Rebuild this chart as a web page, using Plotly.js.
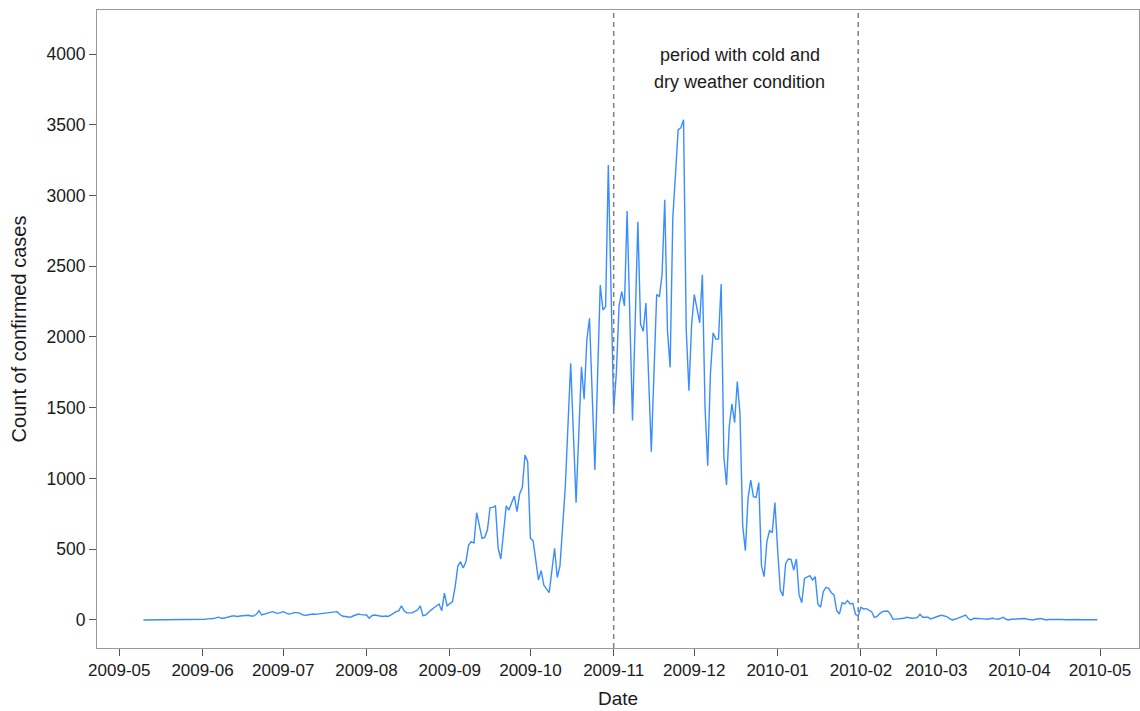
<!DOCTYPE html>
<html>
<head>
<meta charset="utf-8">
<script src="https://cdn.plot.ly/plotly-3.0.1.min.js"></script>
<style>html,body{margin:0;padding:0;background:#fff}#chart{width:1140px;height:711px}</style>
</head>
<body>
<div id="chart"></div>
<script>
// Daily counts of confirmed cases, first day 2009-05-10
const startDate = '2009-05-10';
const cases_2009_05 = [0,0,0,0,0,0,0,0,0,0,0,0,0,0,0,0,0,0,0,0,1,3]; // May 10-31
const cases_2009_06 = [5,5,8,7,10,15,20,12,12,18,25,28,28,25,28,30,35,33,28,28,40,65,35,40,47,52,59,52,47,52];
const cases_2009_07 = [59,50,42,45,52,52,50,38,33,35,40,42,40,42,47,47,50,52,50,55,59,40,28,25,20,19,28,35,42,38,35];
const cases_2009_08 = [35,12,30,35,30,28,25,28,25,35,50,59,64,100,65,50,50,50,60,70,100,30,35,55,70,85,100,113,65,190,100];
const cases_2009_09 = [115,130,235,381,412,367,412,530,553,544,758,660,577,584,636,794,796,806,507,431,620,806,777,825,876,766,890,938,1166,1119];
const cases_2009_10 = [577,561,420,283,349,247,220,193,350,507,300,382,660,942,1380,1814,1320,829,1310,1790,1560,1979,2132,1600,1060,1720,2367,2191,2215,3216,2300];
const cases_2009_11 = [1480,1750,2220,2320,2220,2890,2150,1410,2110,2815,2090,2040,2240,1710,1190,1750,2300,2285,2440,2970,2050,1785,2840,3150,3465,3478,3536,2050,1620,2085];
const cases_2009_12 = [2300,2200,2100,2440,1500,1090,1740,2030,1985,1985,2375,1155,954,1366,1527,1395,1685,1461,671,490,860,989,872,867,971,382,306,553,631,617,830];
const cases_2010_01 = [500,212,170,400,431,429,353,431,177,122,294,302,313,283,306,111,90,200,231,224,193,177,66,42,122,113,137,113,118,40,28];
const cases_2010_02 = [90,78,80,70,59,19,24,45,59,62,64,40,5,6,7,10,12,19,15,12,14,17,40,19,19,19,7,15];
const cases_2010_03 = [25,28,33,30,24,10,0,5,12,18,24,35,10,0,12,12,10,12,8,5,8,12,8,5,12,19,5,0,5,7,8];
const cases_2010_04 = [10,10,10,5,3,0,5,8,10,5,0,3,5,4,3,5,3,2,3,4,3,2,3,2,2,3,2,1,2,2];

const periodStart = '2009-11-01';
const periodEnd = '2010-01-31';
const noteLines = ['period with cold and', 'dry weather condition'];

const counts = [].concat(cases_2009_05, cases_2009_06, cases_2009_07, cases_2009_08,
  cases_2009_09, cases_2009_10, cases_2009_11, cases_2009_12,
  cases_2010_01, cases_2010_02, cases_2010_03, cases_2010_04);

const dates = [];
const sp = startDate.split('-').map(Number);
const t0 = Date.UTC(sp[0], sp[1] - 1, sp[2]);
for (let i = 0; i < counts.length; i++) {
  const d = new Date(t0 + i * 86400000);
  dates.push(d.toISOString().slice(0, 10));
}

const font = {family: 'Liberation Sans, Arial, sans-serif', color: '#1a1a1a'};

const trace = {
  x: dates, y: counts, type: 'scatter', mode: 'lines',
  line: {color: '#3a8dff', width: 1.4},
  hoverinfo: 'x+y'
};

const layout = {
  width: 1140, height: 711,
  margin: {l: 97, r: 1, t: 10, b: 63},
  paper_bgcolor: '#ffffff', plot_bgcolor: '#ffffff',
  showlegend: false,
  font: font,
  xaxis: {
    type: 'date',
    range: ['2009-04-22 17:00', '2010-05-15 12:00'],
    tick0: '2009-05-01', dtick: 'M1', tickformat: '%Y-%m',
    ticks: 'outside', ticklen: 7, tickwidth: 1, tickcolor: '#555',
    showgrid: false, zeroline: false,
    showline: true, linecolor: '#999', linewidth: 1, mirror: true,
    tickfont: {size: 17, family: font.family, color: '#1a1a1a'},
    title: {text: 'Date', font: {size: 19, family: font.family, color: '#1a1a1a'}, standoff: 12}
  },
  yaxis: {
    range: [-198, 4311],
    tickvals: [0, 500, 1000, 1500, 2000, 2500, 3000, 3500, 4000],
    ticks: 'outside', ticklen: 7, tickwidth: 1, tickcolor: '#555',
    showgrid: false, zeroline: false,
    showline: true, linecolor: '#999', linewidth: 1, mirror: true,
    tickfont: {size: 17.5, family: font.family, color: '#1a1a1a'},
    title: {text: 'Count of confirmed cases', font: {size: 20, family: font.family, color: '#1a1a1a'}, standoff: 14}
  },
  shapes: [periodStart, periodEnd].map(d => ({
    type: 'line', xref: 'x', yref: 'paper', x0: d, x1: d, y0: 0, y1: 1,
    line: {color: '#808080', width: 1.5, dash: '5px,4px'}
  })),
  annotations: [
    {x: '2009-12-18', y: 3993, xref: 'x', yref: 'y', text: noteLines[0], showarrow: false,
     xanchor: 'center', yanchor: 'middle', font: {size: 18, family: font.family, color: '#1a1a1a'}},
    {x: '2009-12-18', y: 3802, xref: 'x', yref: 'y', text: noteLines[1], showarrow: false,
     xanchor: 'center', yanchor: 'middle', font: {size: 18, family: font.family, color: '#1a1a1a'}}
  ]
};

Plotly.newPlot('chart', [trace], layout, {displayModeBar: false, staticPlot: true});
</script>
</body>
</html>
